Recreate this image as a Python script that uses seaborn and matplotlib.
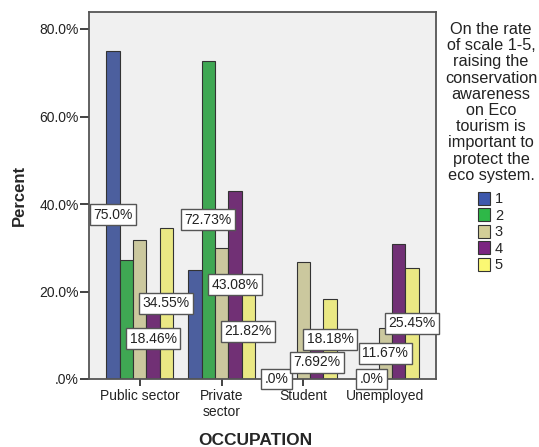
import numpy as np
import pandas as pd
import seaborn as sns
import matplotlib.pyplot as plt
from matplotlib.patches import Patch

# data (percent of each rating group, by occupation)
occupations = ["Public sector", "Private\nsector", "Student", "Unemployed"]
ratings = ["1", "2", "3", "4", "5"]
rate_1 = [75.0, 25.0, 0.0, 0.0]
rate_2 = [27.27, 72.73, 0.0, 0.0]
rate_3 = [31.67, 30.0, 26.67, 11.67]
rate_4 = [18.46, 43.08, 7.692, 30.77]
rate_5 = [34.55, 21.82, 18.18, 25.45]

# bars that carry a visible value label (occupation index, rating)
labelled = [(0, "1"), (1, "2"), (0, "5"), (0, "4"), (1, "4"), (1, "5"),
            (2, "1"), (2, "4"), (2, "5"), (3, "3"), (3, "2"), (3, "5")]

colors = ["#3E58AC", "#2EB848", "#D3CE97", "#7B2481", "#FBF873"]
legend_title = ("On the rate\nof scale 1-5,\nraising the\nconservation\nawareness\n"
                "on Eco\ntourism is\nimportant to\nprotect the\neco system.")

rows = []
for r, vals in zip(ratings, [rate_1, rate_2, rate_3, rate_4, rate_5]):
    for occ, v in zip(occupations, vals):
        rows.append({"occupation": occ, "rating": r, "percent": v})
df = pd.DataFrame(rows)

sns.set_style("white")
plt.rcParams["font.family"] = ["Liberation Sans", "DejaVu Sans"]

fig = plt.figure(figsize=(5.39, 4.47), dpi=100)
ax = fig.add_axes([89 / 539, 1 - 379 / 447, 347 / 539, 367.5 / 447])
ax.set_facecolor("#F0F0F0")

sns.barplot(data=df, x="occupation", y="percent", hue="rating",
            order=occupations, hue_order=ratings, palette=colors,
            width=0.816, edgecolor="#333333", linewidth=0.8,
            legend=False, ax=ax)

ax.set_xlim(-0.62, 3.62)
ax.set_ylim(0, 84)
ax.set_yticks([0, 20, 40, 60, 80])
ax.set_yticklabels([".0%", "20.0%", "40.0%", "60.0%", "80.0%"])
ax.tick_params(axis="y", direction="out", length=6.5, width=1.2, pad=1,
               labelsize=10, colors="#222222", left=True)
ax.tick_params(axis="x", direction="out", length=5, width=1.2, pad=2,
               labelsize=10, colors="#222222", bottom=True)
for s in ax.spines.values():
    s.set_color("#555555")
    s.set_linewidth(1.3)

ax.set_ylabel("Percent", fontsize=12, fontweight="bold", labelpad=9)
ax.set_xlabel("OCCUPATION", fontsize=12.5, fontweight="bold")
ax.xaxis.set_label_coords((255 - 89) / 347, -54 / 367.5)


def fmt(v):
    if v == 0:
        return ".0%"
    s = f"{v:.4g}"
    if "." not in s:
        s += ".0"
    return s + "%"


for oi, r in labelled:
    bar = ax.containers[ratings.index(r)][oi]
    h = bar.get_height()
    x = bar.get_x() + bar.get_width() / 2
    ax.text(x, h / 2, fmt(h), ha="center", va="center", fontsize=10,
            color="#222222", zorder=5,
            bbox=dict(boxstyle="square,pad=0.25", fc="white", ec="#555555", lw=1))

fig.text(491 / 539, 1 - 22 / 447, legend_title, ha="center", va="top",
         fontsize=11.7, linespacing=1.1, color="#222222")
handles = [Patch(facecolor=c, edgecolor="#333333", linewidth=0.8) for c in colors]
fig.legend(handles, ratings, loc="upper left", bbox_to_anchor=(478 / 539, 1 - 192 / 447),
           frameon=False, fontsize=10.5, handlelength=0.85, handleheight=0.95,
           handletextpad=0.3, labelspacing=0.15, borderpad=0, borderaxespad=0)

fig.savefig("out.png", dpi=100)
